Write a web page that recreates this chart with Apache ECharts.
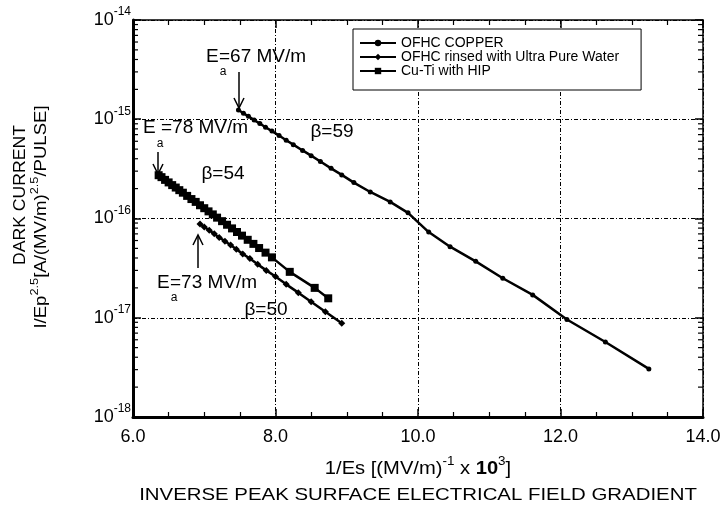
<!DOCTYPE html>
<html>
<head>
<meta charset="utf-8">
<script src="https://cdn.jsdelivr.net/npm/echarts@6/dist/echarts.min.js"></script>
<style>html,body{margin:0;padding:0;background:#fff}#c{width:720px;height:514px}</style>
</head>
<body>
<div id="c"></div>
<script>
// ---- data ----
const seriesNames = ['OFHC COPPER', 'OFHC rinsed with Ultra Pure Water', 'Cu-Ti with HIP'];
const copperX = [7.48,7.55,7.62,7.70,7.78,7.86,7.95,8.05,8.15,8.25,8.38,8.50,8.63,8.78,8.93,9.10,9.33,9.61,9.86,10.15,10.45,10.81,11.19,11.61,12.09,12.63,13.24];
const copperY = [1.24e-15,1.15e-15,1.07e-15,9.8e-16,9.05e-16,8.3e-16,7.6e-16,6.85e-16,6.15e-16,5.55e-16,4.85e-16,4.3e-16,3.75e-16,3.2e-16,2.75e-16,2.3e-16,1.85e-16,1.47e-16,1.14e-16,7.3e-17,5.2e-17,3.7e-17,2.5e-17,1.7e-17,9.6e-18,5.7e-18,3.05e-18];
const rinsedX = [6.94,7.00,7.07,7.14,7.21,7.29,7.37,7.45,7.54,7.64,7.75,7.87,8.00,8.15,8.32,8.50,8.70,8.93];
const rinsedY = [8.8e-17,8.2e-17,7.6e-17,7.0e-17,6.45e-17,5.9e-17,5.4e-17,4.9e-17,4.4e-17,3.95e-17,3.45e-17,3.0e-17,2.6e-17,2.17e-17,1.79e-17,1.45e-17,1.15e-17,8.8e-18];
const cuTiX = [6.36,6.40,6.45,6.50,6.55,6.60,6.65,6.70,6.76,6.82,6.88,6.94,7.00,7.06,7.12,7.18,7.25,7.32,7.39,7.46,7.53,7.61,7.69,7.77,7.86,7.95,8.20,8.55,8.74];
const cuTiY = [2.73e-16,2.61e-16,2.45e-16,2.31e-16,2.17e-16,2.05e-16,1.93e-16,1.82e-16,1.69e-16,1.57e-16,1.47e-16,1.36e-16,1.27e-16,1.18e-16,1.10e-16,1.02e-16,9.4e-17,8.65e-17,7.95e-17,7.31e-17,6.72e-17,6.1e-17,5.55e-17,5.04e-17,4.53e-17,4.06e-17,2.9e-17,2.0e-17,1.57e-17];
const xMin = 6, xMax = 14, xStep = 2;
const yMin = 1e-18, yMax = 1e-14;
const minorMantissas = [2,3,4,5,6,7,8,9];
const minorDecades = [-18,-17,-16,-15];

const FONT = 'Liberation Sans, Arial, sans-serif';
const pairs = (xs, ys) => xs.map((x, i) => [x, ys[i]]);
const yMinorTicks = [];
minorDecades.forEach(d => minorMantissas.forEach(m => yMinorTicks.push([xMin, m * Math.pow(10, d)])));

const chart = echarts.init(document.getElementById('c'), null, {renderer: 'canvas'});
const gridLine = {show: true, lineStyle: {color: '#000', width: 1, type: [4, 2, 1, 2]}};
const baseX = {
  type: 'value', min: xMin, max: xMax, interval: xStep,
  axisTick: {show: true, inside: true, length: 8, lineStyle: {color: '#000', width: 1.5}},
  minorTick: {show: true, splitNumber: 4, length: 5, lineStyle: {color: '#000', width: 1.2}},
};
const baseY = {
  type: 'log', logBase: 10, min: yMin, max: yMax,
  axisTick: {show: true, inside: true, length: 8, lineStyle: {color: '#000', width: 1.5}},
};

const option = {
  animation: false,
  backgroundColor: '#fff',
  grid: {left: 133, right: 17, top: 20, bottom: 97, outerBoundsMode: 'none', containLabel: false},
  legend: {
    data: seriesNames, orient: 'vertical', left: 353, top: 29,
    itemWidth: 36, itemHeight: 8, itemGap: 0,
    padding: [7, 22, 12, 6],
    backgroundColor: '#fff', borderColor: '#000', borderWidth: 1, borderRadius: 0,
    textStyle: {fontFamily: FONT, fontSize: 14, lineHeight: 14, color: '#000'},
    itemStyle: {color: '#000'}
  },
  xAxis: [
    Object.assign({}, baseX, {
      position: 'bottom',
      axisLine: {show: true, lineStyle: {color: '#000', width: 3}},
      axisLabel: {show: true, margin: 11, fontFamily: FONT, fontSize: 18, color: '#000',
        showMinLabel: true, showMaxLabel: true, formatter: v => v.toFixed(1)},
      splitLine: gridLine
    }),
    Object.assign({}, baseX, {
      position: 'top',
      axisLine: {show: true, lineStyle: {color: '#000', width: 1.5}},
      axisLabel: {show: false}, splitLine: {show: false}
    })
  ],
  yAxis: [
    Object.assign({}, baseY, {
      position: 'left',
      axisLine: {show: true, lineStyle: {color: '#000', width: 3}},
      axisLabel: {
        show: true, margin: 2, fontFamily: FONT, color: '#000',
        showMinLabel: true, showMaxLabel: true,
        formatter: v => '{b|10}{s|' + Math.round(Math.log10(v)) + '}',
        rich: {
          b: {fontFamily: FONT, fontSize: 18, lineHeight: 28, verticalAlign: 'middle', color: '#000'},
          s: {fontFamily: FONT, fontSize: 12, lineHeight: 10, verticalAlign: 'top', color: '#000'}
        }
      },
      splitLine: gridLine
    }),
    Object.assign({}, baseY, {
      position: 'right',
      axisLine: {show: true, lineStyle: {color: '#000', width: 1.5}},
      axisLabel: {show: false}, splitLine: {show: false}
    })
  ],
  series: [
    {
      name: seriesNames[0], type: 'line', data: pairs(copperX, copperY),
      symbol: 'circle', symbolSize: 5, showSymbol: true,
      lineStyle: {color: '#000', width: 2.5}, itemStyle: {color: '#000'}, z: 5
    },
    {
      name: seriesNames[1], type: 'line', data: pairs(rinsedX, rinsedY),
      symbol: 'diamond', symbolSize: 7, showSymbol: true,
      lineStyle: {color: '#000', width: 2.5}, itemStyle: {color: '#000'}, z: 5
    },
    {
      name: seriesNames[2], type: 'line', data: pairs(cuTiX, cuTiY),
      symbol: 'rect', symbolSize: 8, showSymbol: true,
      lineStyle: {color: '#000', width: 2.5}, itemStyle: {color: '#000'}, z: 5
    },
    {
      name: 'yMinor', type: 'custom', silent: true, clip: false, z: 4,
      data: yMinorTicks,
      renderItem: function (params, api) {
        const v = api.value(1);
        const pl = api.coord([xMin, v]);
        const pr = api.coord([xMax, v]);
        return {
          type: 'group', children: [
            {type: 'line', shape: {x1: pl[0], y1: pl[1], x2: pl[0] + 5, y2: pl[1]}, style: {stroke: '#000', lineWidth: 1.2}},
            {type: 'line', shape: {x1: pr[0] - 5, y1: pr[1], x2: pr[0], y2: pr[1]}, style: {stroke: '#000', lineWidth: 1.2}}
          ]
        };
      }
    }
  ],
  graphic: [
    // y-axis titles
    {type: 'text', x: 21, y: 195, rotation: Math.PI / 2, scaleX: 1.1,
      style: {text: 'DARK CURRENT', font: '16px ' + FONT, fill: '#000', align: 'center', verticalAlign: 'middle'}},
    {type: 'text', x: 42, y: 217, rotation: Math.PI / 2, scaleX: 1.16,
      style: {text: '{n|I/Ep}{s|2.5}{n|[A/(MV/m)}{s|2.5}{n|/PULSE]}', align: 'center', verticalAlign: 'middle',
        rich: {n: {fontFamily: FONT, fontSize: 16, lineHeight: 26, verticalAlign: 'middle', fill: '#000'},
               s: {fontFamily: FONT, fontSize: 11, lineHeight: 10, verticalAlign: 'top', fill: '#000'}}}},
    // x-axis titles
    {type: 'text', x: 418, y: 469, scaleX: 1.12,
      style: {text: '{n|1/Es [(MV/m)}{s|-1}{n| x }{b|10}{s|3}{n|]}', align: 'center', verticalAlign: 'middle',
        rich: {n: {fontFamily: FONT, fontSize: 18, lineHeight: 26, verticalAlign: 'middle', fill: '#000'},
               b: {fontFamily: FONT, fontSize: 18, fontWeight: 'bold', lineHeight: 26, verticalAlign: 'middle', fill: '#000'},
               s: {fontFamily: FONT, fontSize: 12, lineHeight: 10, verticalAlign: 'top', fill: '#000'}}}},
    {type: 'text', x: 418, y: 495, scaleX: 1.2,
      style: {text: 'INVERSE PEAK SURFACE ELECTRICAL FIELD GRADIENT', font: '17px ' + FONT, fill: '#000', align: 'center', verticalAlign: 'middle'}},
    // annotation Ea = 67
    {type: 'text', x: 206, y: 57, style: {text: 'E', font: '19px ' + FONT, fill: '#000', align: 'left', verticalAlign: 'middle'}},
    {type: 'text', x: 223, y: 72, style: {text: 'a', font: '12px ' + FONT, fill: '#000', align: 'center', verticalAlign: 'middle'}},
    {type: 'text', x: 219, y: 57, style: {text: '=67 MV/m', font: '19px ' + FONT, fill: '#000', align: 'left', verticalAlign: 'middle'}},
    {type: 'line', shape: {x1: 239, y1: 72, x2: 239, y2: 107}, style: {stroke: '#000', lineWidth: 1.5}},
    {type: 'polyline', shape: {points: [[234, 98], [239, 108], [244, 98]]}, style: {stroke: '#000', lineWidth: 1.5, fill: null}},
    // annotation Ea = 78
    {type: 'text', x: 143, y: 128, style: {text: 'E', font: '19px ' + FONT, fill: '#000', align: 'left', verticalAlign: 'middle'}},
    {type: 'text', x: 160, y: 144, style: {text: 'a', font: '12px ' + FONT, fill: '#000', align: 'center', verticalAlign: 'middle'}},
    {type: 'text', x: 161, y: 128, style: {text: '=78 MV/m', font: '19px ' + FONT, fill: '#000', align: 'left', verticalAlign: 'middle'}},
    {type: 'line', shape: {x1: 158, y1: 152, x2: 158, y2: 173}, style: {stroke: '#000', lineWidth: 1.5}},
    {type: 'polyline', shape: {points: [[153, 164], [158, 174], [163, 164]]}, style: {stroke: '#000', lineWidth: 1.5, fill: null}},
    // annotation Ea = 73
    {type: 'text', x: 157, y: 283, style: {text: 'E', font: '19px ' + FONT, fill: '#000', align: 'left', verticalAlign: 'middle'}},
    {type: 'text', x: 174, y: 298, style: {text: 'a', font: '12px ' + FONT, fill: '#000', align: 'center', verticalAlign: 'middle'}},
    {type: 'text', x: 170, y: 283, style: {text: '=73 MV/m', font: '19px ' + FONT, fill: '#000', align: 'left', verticalAlign: 'middle'}},
    {type: 'line', shape: {x1: 198, y1: 268, x2: 198, y2: 236}, style: {stroke: '#000', lineWidth: 1.5}},
    {type: 'polyline', shape: {points: [[193, 245], [198, 235], [203, 245]]}, style: {stroke: '#000', lineWidth: 1.5, fill: null}},
    // beta labels
    {type: 'text', x: 332, y: 132, style: {text: 'β=59', font: '19px ' + FONT, fill: '#000', align: 'center', verticalAlign: 'middle'}},
    {type: 'text', x: 223, y: 174, style: {text: 'β=54', font: '19px ' + FONT, fill: '#000', align: 'center', verticalAlign: 'middle'}},
    {type: 'text', x: 266, y: 310, style: {text: 'β=50', font: '19px ' + FONT, fill: '#000', align: 'center', verticalAlign: 'middle'}}
  ]
};
chart.setOption(option);
</script>
</body>
</html>
